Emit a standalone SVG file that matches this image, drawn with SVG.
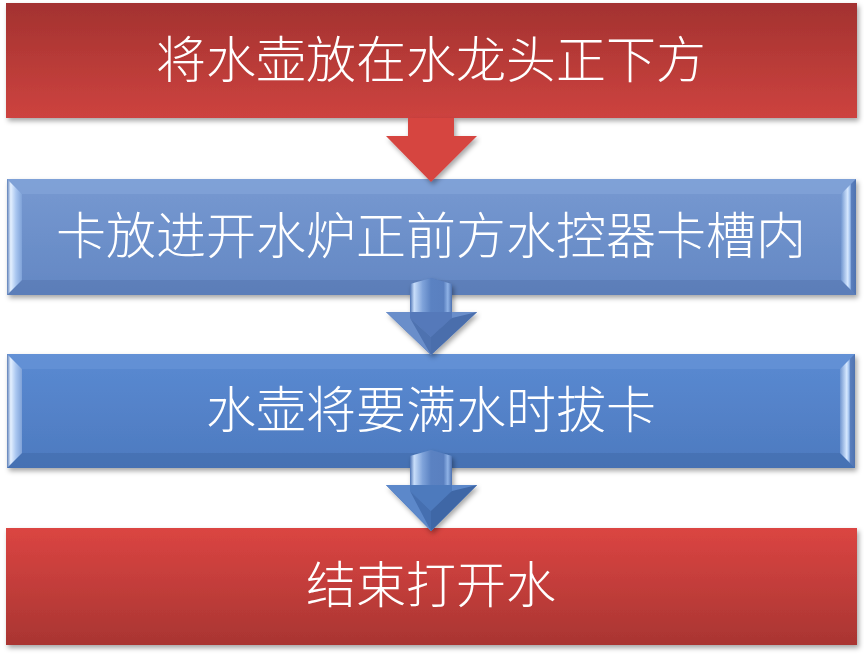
<svg xmlns="http://www.w3.org/2000/svg" width="864" height="657" viewBox="0 0 864 657">
<defs>
<style>
.t{font-family:"Noto Sans CJK SC","Noto Sans",sans-serif;font-size:50px;font-weight:300;fill:#ffffff;text-anchor:middle;dominant-baseline:central}
</style>
<filter id="sh" x="-5%" y="-10%" width="110%" height="130%">
<feDropShadow dx="2" dy="3" stdDeviation="2.5" flood-color="#000" flood-opacity="0.35"/>
</filter>
<linearGradient id="red1" x1="0" y1="0" x2="0" y2="1">
<stop offset="0" stop-color="#A33230"/><stop offset="1" stop-color="#CD433F"/>
</linearGradient>
<linearGradient id="red2" x1="0" y1="0" x2="0" y2="1">
<stop offset="0" stop-color="#DB4542"/><stop offset="1" stop-color="#A93532"/>
</linearGradient>
<linearGradient id="blue1" x1="0" y1="0" x2="0" y2="1">
<stop offset="0" stop-color="#7799D1"/><stop offset="1" stop-color="#6387C3"/>
</linearGradient>
<linearGradient id="blue2" x1="0" y1="0" x2="0" y2="1">
<stop offset="0" stop-color="#5A8AD2"/><stop offset="1" stop-color="#4D7ABF"/>
</linearGradient>
<linearGradient id="bevL" x1="0" y1="0" x2="1" y2="0">
<stop offset="0" stop-color="#5C7FB8"/><stop offset="0.25" stop-color="#E4F0FF"/><stop offset="0.6" stop-color="#A9C6F0"/><stop offset="1" stop-color="#7FA2D8"/>
</linearGradient>
<linearGradient id="bevR" x1="0" y1="0" x2="1" y2="0">
<stop offset="0" stop-color="#7196D0"/><stop offset="0.45" stop-color="#D6E8FF"/><stop offset="0.6" stop-color="#9FC0EE"/><stop offset="0.7" stop-color="#5A7EBC"/><stop offset="1" stop-color="#4F73B0"/>
</linearGradient>
<linearGradient id="shaftG" x1="0" y1="0" x2="1" y2="0">
<stop offset="0" stop-color="#4D73B4"/><stop offset="0.1" stop-color="#C9DEFA"/><stop offset="0.3" stop-color="#7FA3DA"/><stop offset="0.5" stop-color="#5B82C2"/><stop offset="0.8" stop-color="#5A80C0"/><stop offset="0.9" stop-color="#8FB2E6"/><stop offset="1" stop-color="#4B70B0"/>
</linearGradient>
</defs>

<g id="node1" filter="url(#sh)">
<rect x="6" y="3" width="851" height="115" fill="url(#red1)"/>
<text class="t" x="431" y="56">将水壶放在水龙头正下方</text>
</g>

<g id="node2">
<g filter="url(#sh)">
<rect x="7" y="179" width="849" height="116" fill="url(#blue1)"/>
</g>
<polygon points="7,179 856,179 841,194 22,194" fill="#85A6DA" opacity="0.6"/>
<polygon points="7,295 22,280 841,280 856,295" fill="#5878B2" opacity="0.6"/>
<polygon points="7,179 22,194 22,280 7,295" fill="url(#bevL)"/>
<polygon points="856,179 856,295 841,280 841,194" fill="url(#bevR)"/>
<text class="t" x="431" y="232">卡放进开水炉正前方水控器卡槽内</text>
</g>

<g id="node3">
<g filter="url(#sh)">
<rect x="7" y="354" width="848" height="114" fill="url(#blue2)"/>
</g>
<polygon points="7,354 855,354 840,369 22,369" fill="#6B98DA" opacity="0.5"/>
<polygon points="7,468 22,453 840,453 855,468" fill="#3F68A8" opacity="0.5"/>
<polygon points="7,354 22,369 22,453 7,468" fill="url(#bevL)"/>
<polygon points="855,354 855,468 840,453 840,369" fill="url(#bevR)"/>
<text class="t" x="431" y="406">水壶将要满水时拔卡</text>
</g>

<g id="node4" filter="url(#sh)">
<rect x="6" y="528" width="851" height="117" fill="url(#red2)"/>
<text class="t" x="431" y="581">结束打开水</text>
</g>

<g id="connectors">
<g filter="url(#sh)">
<polygon points="408,118 454,118 454,136 477,136 431,182 386,136 408,136" fill="#D64541"/>
</g>
<g id="arrow2">
<g filter="url(#sh)">
<polygon points="410,284 431,278 452,284 452,312 477,312 431,355 386,312 410,312" fill="#5479BA"/>
</g>
<polygon points="410,284 431,278 452,284 452,312 410,312" fill="url(#shaftG)"/>
<polygon points="386,312 410,312 410,318 431,337 452,318 452,312 477,312 431,355" fill="#6A8ECA"/>
<polygon points="410,318 431,337 452,318 431,355" fill="#4E72B0"/>
<polygon points="431,337 452,318 477,312 431,355" fill="#4A6EAC"/>
</g>
<g id="arrow3">
<g filter="url(#sh)">
<polygon points="410,456 431,450 452,456 452,485 477,485 431,531 386,485 410,485" fill="#4E7ABD"/>
</g>
<polygon points="410,456 431,450 452,456 452,485 410,485" fill="url(#shaftG)"/>
<polygon points="386,485 410,485 410,491 431,511 452,491 452,485 477,485 431,531" fill="#5C88CA"/>
<polygon points="410,491 431,511 452,491 431,531" fill="#456FB0"/>
<polygon points="431,511 452,491 477,485 431,531" fill="#3F67A6"/>
</g>
</g>
</svg>
